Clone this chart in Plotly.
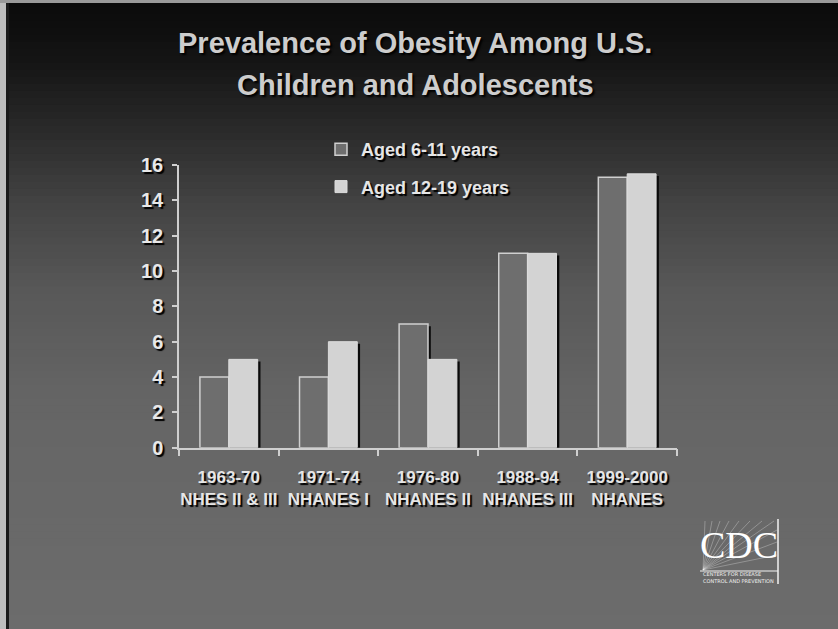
import plotly.graph_objects as go

# Survey periods and prevalence of obesity (%)
periods = ["1963-70", "1971-74", "1976-80", "1988-94", "1999-2000"]
surveys = ["NHES II & III", "NHANES I", "NHANES II", "NHANES III", "NHANES"]
aged_6_11 = [4, 4, 7, 11, 15.3]
aged_12_19 = [5, 6, 5, 11, 15.5]
y_ticks = [0, 2, 4, 6, 8, 10, 12, 14, 16]
title_lines = ["Prevalence of Obesity Among U.S.", "Children and Adolescents"]

W, H = 838, 629
FONT = "Liberation Sans, Arial, sans-serif"
SHADOW = "2px 2px 1px #000000"
categories = [f"{p}<br>{s}" for p, s in zip(periods, surveys)]


def px(x):
    return x / W


def py(y):
    return 1 - y / H


fig = go.Figure()

BAR_W = 0.29
DROP = 0.12  # drop shadow sits slightly below the bar top

# drop shadows for both series
for vals, off in ((aged_6_11, -BAR_W), (aged_12_19, 0.0)):
    fig.add_trace(go.Bar(
        x=categories, y=[v - DROP for v in vals], width=BAR_W, offset=off + 0.028,
        marker=dict(color="#0a0a0a", line=dict(width=0)),
        showlegend=False, hoverinfo="skip",
    ))

fig.add_trace(go.Bar(
    x=categories, y=aged_6_11, name="Aged 6-11 years", width=BAR_W, offset=-BAR_W,
    marker=dict(color="#6e6e6e", line=dict(color="#cfcfcf", width=1.5)),
    legendgroup="a",
))
fig.add_trace(go.Bar(
    x=categories, y=aged_12_19, name="Aged 12-19 years", width=BAR_W, offset=0.0,
    marker=dict(color="#d3d3d3", line=dict(color="#dcdcdc", width=1)),
    legendgroup="b",
))

# slide background: dark at top fading to mid grey
stops = [(0, (10, 10, 10)), (60, (20, 20, 20)), (130, (42, 42, 42)),
         (200, (66, 66, 66)), (290, (88, 88, 88)), (400, (101, 101, 101)),
         (629, (108, 108, 108))]
shapes = []
bands = 90
for i in range(bands):
    y0 = H * i / bands
    y1 = H * (i + 1) / bands
    ym = (y0 + y1) / 2
    for (a, ca), (b, cb) in zip(stops[:-1], stops[1:]):
        if a <= ym <= b:
            t = (ym - a) / (b - a)
            c = tuple(int(round(ca[k] + (cb[k] - ca[k]) * t)) for k in range(3))
            break
    shapes.append(dict(type="rect", xref="paper", yref="paper",
                       x0=0, x1=1, y0=max(0, py(y1 + 0.5)), y1=py(y0),
                       fillcolor=f"rgb{c}", line=dict(width=0), layer="below"))

# light frame edges of the slide
shapes.append(dict(type="rect", xref="paper", yref="paper", x0=0, x1=px(6), y0=0, y1=1,
                   fillcolor="#bdbdbd", line=dict(width=0), layer="below"))
shapes.append(dict(type="rect", xref="paper", yref="paper", x0=px(6), x1=px(9), y0=0, y1=1,
                   fillcolor="#1a1a1a", line=dict(width=0), layer="below"))
shapes.append(dict(type="rect", xref="paper", yref="paper", x0=0, x1=1, y0=py(3), y1=1,
                   fillcolor="#9a9a9a", line=dict(width=0), layer="below"))

# CDC logo frame and rays
lx0, lx1, ly0, ly1, lyb = 701, 778, 519, 571, 584
for tx in [705, 712, 720, 729, 739, 750, 762, 774]:
    shapes.append(dict(type="line", xref="paper", yref="paper",
                       x0=px(lx0 + 2), y0=py(ly1 - 1), x1=px(tx), y1=py(ly0 + 2),
                       line=dict(color="rgba(255,255,255,0.28)", width=1)))
for ty in [530, 542, 555]:
    shapes.append(dict(type="line", xref="paper", yref="paper",
                       x0=px(lx0 + 2), y0=py(ly1 - 1), x1=px(lx1 - 1), y1=py(ty),
                       line=dict(color="rgba(255,255,255,0.28)", width=1)))
shapes.append(dict(type="line", xref="paper", yref="paper",
                   x0=px(lx1), y0=py(ly0), x1=px(lx1), y1=py(lyb),
                   line=dict(color="#f2f2f2", width=1.5)))
shapes.append(dict(type="line", xref="paper", yref="paper",
                   x0=px(lx0 - 1), y0=py(ly1), x1=px(lx1), y1=py(ly1),
                   line=dict(color="#f2f2f2", width=1.2)))

title_font = dict(family=FONT, size=29, color="#cdcdcd", weight="bold",
                  shadow="2px 2px 2px #000000")
annotations = [
    dict(text=title_lines[0], x=px(415), y=py(43), xref="paper", yref="paper",
         showarrow=False, xanchor="center", yanchor="middle", font=title_font),
    dict(text=title_lines[1], x=px(415), y=py(85), xref="paper", yref="paper",
         showarrow=False, xanchor="center", yanchor="middle", font=title_font),
    dict(text="CDC", x=px(739), y=py(545), xref="paper", yref="paper", showarrow=False,
         xanchor="center", yanchor="middle",
         font=dict(family="Liberation Serif, DejaVu Serif, serif", size=38, color="#ffffff")),
    dict(text="CENTERS FOR DISEASE<br>CONTROL AND PREVENTION", x=px(701), y=py(577),
         xref="paper", yref="paper", showarrow=False, xanchor="left", yanchor="middle",
         align="left",
         font=dict(family="DejaVu Sans, sans-serif", size=5, color="#f0f0f0")),
]

fig.update_layout(
    width=W, height=H, autosize=False,
    margin=dict(l=0, r=0, t=0, b=0, pad=0, autoexpand=False),
    paper_bgcolor="#6b6b6b", plot_bgcolor="rgba(0,0,0,0)",
    barmode="overlay",
    showlegend=True,
    legend=dict(x=px(321), y=py(131), xanchor="left", yanchor="top",
                bgcolor="rgba(0,0,0,0)", borderwidth=0, tracegroupgap=11,
                itemwidth=30,
                font=dict(family=FONT, size=18, color="#e6e6e6", weight="bold", shadow=SHADOW)),
    xaxis=dict(domain=[px(179), px(677)], range=[-0.5, 4.5], type="category",
               automargin=False, tickangle=0,
               showgrid=False, zeroline=False, showline=True, linecolor="#cfcfcf", linewidth=1.5,
               ticks="outside", tickson="boundaries", ticklen=7, tickcolor="#cfcfcf", tickwidth=1.5,
               tickfont=dict(family=FONT, size=17, color="#e6e6e6", weight="bold", shadow=SHADOW),
               ticklabelstandoff=13),
    yaxis=dict(domain=[py(447.7), py(165)], range=[0, 16], tickvals=y_ticks,
               automargin=False,
               showgrid=False, zeroline=False, showline=True, linecolor="#cfcfcf", linewidth=1.5,
               ticks="outside", ticklen=5, tickcolor="#cfcfcf", tickwidth=1.5,
               tickfont=dict(family=FONT, size=20, color="#e8e8e8", weight="bold", shadow=SHADOW),
               ticklabelstandoff=5),
    shapes=shapes,
    annotations=annotations,
)

fig.write_html("out.html")
